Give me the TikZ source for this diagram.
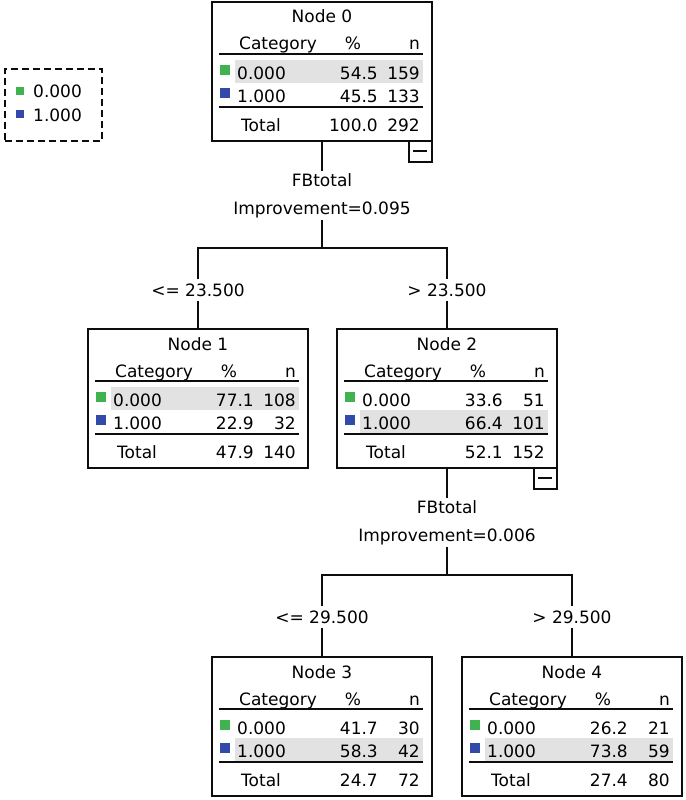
\documentclass[tikz,border=0pt]{standalone}
\usepackage{fontspec}
\setmainfont{DejaVu Sans}
\usetikzlibrary{positioning}

\definecolor{catgreen}{RGB}{64,178,80}
\definecolor{catblue}{RGB}{50,74,170}
\definecolor{rowgrey}{RGB}{226,226,226}

\tikzset{
  boxline/.style={draw=black!95, line width=1.4pt},
  nodebox/.style={boxline, anchor=north west, minimum width=220pt, minimum height=139pt, inner sep=0pt, outer sep=0pt},
  cell/.style={inner sep=0pt, text=black},
  rule/.style={draw=black!95, line width=1.4pt},
  splitlabel/.style={align=center, inner sep=2pt, text=black},
  cutlabel/.style={inner xsep=2pt, inner ysep=4pt, text=black},
  legendbox/.style={draw=black!95, line width=1.5pt, dash pattern=on 7pt off 4pt, anchor=north west, minimum width=97pt, minimum height=72pt, inner sep=0pt}
}

% #1 node number, #2 top left corner, #3 shaded row,
% #4-#7 percent and n of the two categories, #8 #9 totals
\newcommand{\treebox}[9]{%
  \node[nodebox] (n#1) at #2 {};
  \begin{scope}[shift={(n#1.north west)}]
    \fill[rowgrey] (23,{35+23*#3}) rectangle (211,{58+23*#3});
    \node[cell, anchor=base] (n#1-title) at (110,21) {Node #1};
    \node[cell, anchor=base west] (n#1-cat) at (27,48) {Category};
    \node[cell, anchor=base] (n#1-pc) at (141,48) {\%};
    \node[cell, anchor=base east] (n#1-n) at (208,48) {n};
    \draw[rule] (7,52) -- (211,52);
    \fill[catgreen] (8,63) rectangle (18,73);
    \node[cell, anchor=base west] (n#1-a) at (25,77) {0.000};
    \node[cell, anchor=base east] (n#1-ap) at (166,77) {#4};
    \node[cell, anchor=base east] (n#1-an) at (208,77) {#5};
    \fill[catblue] (8,86) rectangle (18,96);
    \node[cell, anchor=base west] (n#1-b) at (25,100) {1.000};
    \node[cell, anchor=base east] (n#1-bp) at (166,100) {#6};
    \node[cell, anchor=base east] (n#1-bn) at (208,100) {#7};
    \draw[rule, line width=1.9pt] (7,105) -- (211,105);
    \node[cell, anchor=base west] (n#1-tot) at (29,129) {Total};
    \node[cell, anchor=base east] (n#1-tp) at (166,129) {#8};
    \node[cell, anchor=base east] (n#1-tn) at (208,129) {#9};
  \end{scope}
}

% small box with a minus under an expanded node
\newcommand{\collapsebox}[1]{%
  \begin{scope}[shift={(#1.south east)}]
    \draw[boxline] (-23,0) rectangle (0,21);
    \draw[boxline] (-19,10) -- (-5,10);
  \end{scope}
}

\begin{document}
\begin{tikzpicture}[x=1pt, y=-1pt, font=\fontsize{17}{28}\selectfont]
\useasboundingbox (0,0) rectangle (685,800);

% legend
\node[legendbox] (legend) at (4,68) {};
\fill[catgreen] (16,87) rectangle (24,95);
\node[cell, anchor=base west] (leg0) at (33,97) {0.000};
\fill[catblue] (16,110) rectangle (24,118);
\node[cell, anchor=base west] (leg1) at (33,121) {1.000};

% tree nodes
\treebox{0}{(212,2)}{1}{54.5}{159}{45.5}{133}{100.0}{292}
\treebox{1}{(88,329)}{1}{77.1}{108}{22.9}{32}{47.9}{140}
\treebox{2}{(337,329)}{2}{33.6}{51}{66.4}{101}{52.1}{152}
\treebox{3}{(212,657)}{2}{41.7}{30}{58.3}{42}{24.7}{72}
\treebox{4}{(462,657)}{2}{26.2}{21}{73.8}{59}{27.4}{80}
\collapsebox{n0}
\collapsebox{n2}

% first split
\node[splitlabel, anchor=north] (s0) at (322,171) {FBtotal\\Improvement=0.095};
\coordinate (j0) at (322,248);
\node[cutlabel] (c1) at (198,290) {<= 23.500};
\node[cutlabel] (c2) at (447,290) {> 23.500};
\draw[boxline] (n0.south) -- (s0.north);
\draw[boxline] (s0.south) -- (j0);
\draw[boxline] (c1.north) |- (j0) -| (c2.north);
\draw[boxline] (c1.south) -- (n1.north);
\draw[boxline] (c2.south) -- (n2.north);

% second split
\node[splitlabel, anchor=north] (s2) at (447,498) {FBtotal\\Improvement=0.006};
\coordinate (j2) at (447,575);
\node[cutlabel] (c3) at (322,617) {<= 29.500};
\node[cutlabel] (c4) at (572,617) {> 29.500};
\draw[boxline] (n2.south) -- (s2.north);
\draw[boxline] (s2.south) -- (j2);
\draw[boxline] (c3.north) |- (j2) -| (c4.north);
\draw[boxline] (c3.south) -- (n3.north);
\draw[boxline] (c4.south) -- (n4.north);
\end{tikzpicture}
\end{document}
